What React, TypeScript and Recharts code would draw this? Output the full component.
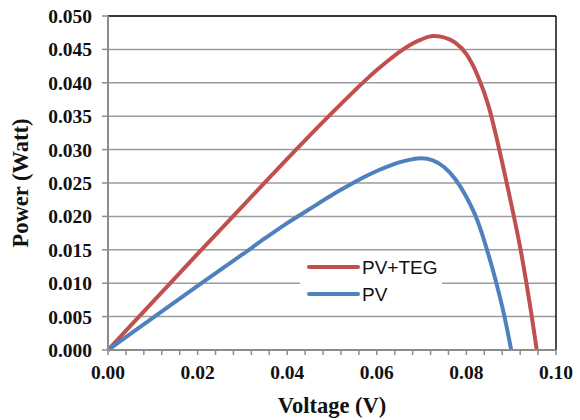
import React from 'react';
import { LineChart, Line, XAxis, YAxis, CartesianGrid, ReferenceLine, Legend } from 'recharts';

// PV+TEG series
const voltagePvTeg = [0, 0.01, 0.02, 0.03, 0.04, 0.045, 0.05, 0.055, 0.0575, 0.06, 0.0625, 0.065, 0.0675, 0.07, 0.0725, 0.075, 0.0775, 0.08, 0.0825, 0.085, 0.087, 0.089, 0.0906, 0.0921, 0.0934, 0.0946, 0.0957];
const powerPvTeg = [0, 0.0072, 0.0144, 0.0215, 0.0286, 0.0321, 0.0355, 0.0388, 0.0404, 0.0419, 0.0433, 0.0446, 0.0457, 0.0465, 0.047, 0.0468, 0.046, 0.0443, 0.0411, 0.0364, 0.031, 0.025, 0.02, 0.015, 0.01, 0.005, 0];

// PV series
const voltagePv = [0, 0.01, 0.02, 0.03, 0.035, 0.04, 0.045, 0.05, 0.055, 0.0575, 0.06, 0.0625, 0.065, 0.0675, 0.07, 0.0725, 0.075, 0.0775, 0.08, 0.0825, 0.0846, 0.0867, 0.0885, 0.09];
const powerPv = [0, 0.0048, 0.0096, 0.0143, 0.0167, 0.019, 0.0211, 0.0232, 0.0251, 0.026, 0.0268, 0.0275, 0.0281, 0.0285, 0.0287, 0.0284, 0.0274, 0.0256, 0.0229, 0.0193, 0.015, 0.01, 0.005, 0];

const xTicks = [0, 0.004, 0.008, 0.012, 0.016, 0.02, 0.024, 0.028, 0.032, 0.036, 0.04, 0.044, 0.048, 0.052, 0.056, 0.06, 0.064, 0.068, 0.072, 0.076, 0.08, 0.084, 0.088, 0.092, 0.096, 0.1];
const yTicks = [0, 0.005, 0.01, 0.015, 0.02, 0.025, 0.03, 0.035, 0.04, 0.045, 0.05];

const seriesNames = ['PV+TEG', 'PV'];
const seriesColors = ['#C0504D', '#4F81BD'];

const dataPvTeg = voltagePvTeg.map((v, i) => ({ v, p: powerPvTeg[i] }));
const dataPv = voltagePv.map((v, i) => ({ v, p: powerPv[i] }));

const serif = '"Liberation Serif", "Times New Roman", serif';
const sans = '"Liberation Sans", Arial, sans-serif';

const xFmt = (v: number) => {
  const r = v / 0.02;
  return Math.abs(r - Math.round(r)) < 1e-6 ? v.toFixed(2) : '';
};

const LegendBox = () => (
  <div style={{ background: '#fff', width: 142, height: 52, position: 'relative' }}>
    <svg width={142} height={52}>
      {seriesNames.map((n, i) => (
        <g key={n}>
          <line x1={9} x2={58} y1={13 + i * 27} y2={13 + i * 27} stroke={seriesColors[i]} strokeWidth={4} strokeLinecap="round" />
          <text x={62} y={13 + i * 27} dominantBaseline="central" fontFamily={sans} fontSize={19} fill="#111">{n}</text>
        </g>
      ))}
    </svg>
  </div>
);

export default function App() {
  return (
    <div style={{ position: 'absolute', left: 0, top: 0, background: '#fff' }}>
      <LineChart width={580} height={420} margin={{ top: 16, right: 24, left: 0, bottom: 0 }}>
        <CartesianGrid vertical={false} stroke="#9c9c9c" strokeWidth={1.5} />
        <XAxis
          dataKey="v"
          type="number"
          domain={[0, 0.1]}
          ticks={xTicks}
          interval={0}
          tickFormatter={xFmt}
          height={70}
          tickSize={5}
          tickMargin={10}
          axisLine={{ stroke: '#8c8c8c', strokeWidth: 2 }}
          tickLine={{ stroke: '#8c8c8c', strokeWidth: 1.5 }}
          tick={{ fontFamily: serif, fontWeight: 'bold', fontSize: 19.5, fill: '#111' }}
          allowDuplicatedCategory={false}
          label={{
            content: (props: any) => {
              const vb = props.viewBox;
              return (
                <text x={vb.x + vb.width / 2} y={vb.y + 63} textAnchor="middle" fontFamily={serif} fontWeight="bold" fontSize={22.5} fill="#111">
                  Voltage (V)
                </text>
              );
            },
          }}
        />
        <YAxis
          type="number"
          domain={[0, 0.05]}
          ticks={yTicks}
          interval={0}
          tickFormatter={(v: number) => v.toFixed(3)}
          width={108}
          tickSize={6}
          tickMargin={10}
          axisLine={{ stroke: '#8c8c8c', strokeWidth: 2 }}
          tickLine={{ stroke: '#8c8c8c', strokeWidth: 1.5 }}
          tick={{ fontFamily: serif, fontWeight: 'bold', fontSize: 19.5, fill: '#111' }}
          label={{
            content: (props: any) => {
              const vb = props.viewBox;
              const cx = vb.x + 28;
              const cy = vb.y + vb.height / 2;
              return (
                <text x={cx} y={cy} transform={`rotate(-90 ${cx} ${cy})`} textAnchor="middle" fontFamily={serif} fontWeight="bold" fontSize={22.5} fill="#111">
                  Power (Watt)
                </text>
              );
            },
          }}
        />
        <ReferenceLine y={0.05} stroke="#111" strokeWidth={1.5} />
        <ReferenceLine x={0.1} stroke="#111" strokeWidth={1.5} />
        <Legend
          layout="vertical"
          align="center"
          verticalAlign="middle"
          content={() => <LegendBox />}
          wrapperStyle={{ left: 300, top: 254, width: 142, height: 52 }}
        />
        <Line data={dataPvTeg} dataKey="p" name={seriesNames[0]} type="monotone" stroke={seriesColors[0]} strokeWidth={4} dot={false} isAnimationActive={false} />
        <Line data={dataPv} dataKey="p" name={seriesNames[1]} type="monotone" stroke={seriesColors[1]} strokeWidth={4} dot={false} isAnimationActive={false} />
      </LineChart>
    </div>
  );
}
